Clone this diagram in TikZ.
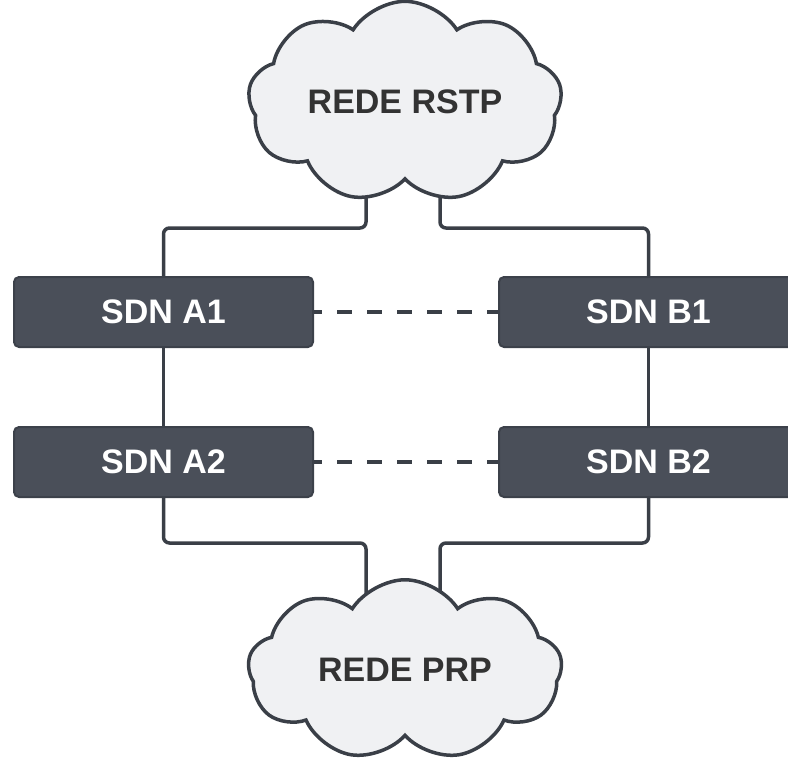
\documentclass[tikz,border=0pt]{standalone}
\usepackage{fontspec}
\setmainfont{Liberation Sans}
\usepackage{tikz}
\usetikzlibrary{shapes.symbols,positioning,backgrounds,calc}
\definecolor{boxfill}{HTML}{4A4F59}
\definecolor{boxline}{HTML}{3C414A}
\definecolor{cloudfill}{HTML}{F0F1F3}
\definecolor{wire}{HTML}{3A3F47}
\definecolor{labeltext}{HTML}{333333}
\tikzset{
  sdn/.style={
    rectangle, rounded corners=5pt,
    draw=boxline, fill=boxfill, line width=2pt,
    minimum width=299pt, minimum height=70pt,
    text=white, font=\fontsize{34}{40}\selectfont\bfseries,
    inner sep=3pt},
  net/.style={
    cloud, cloud puffs=9, cloud puff arc=115, aspect=1.8,
    draw=wire, fill=cloudfill, line width=3.5pt,
    minimum width=314pt, minimum height=172pt,
    text=labeltext, font=\fontsize{34}{40}\selectfont\bfseries,
    inner sep=3pt},
  link/.style={draw=wire, line width=3.5pt, rounded corners=6pt},
  peer/.style={draw=wire, line width=3.5pt, dash pattern=on 15pt off 15pt, dash phase=7pt},
}
\begin{document}
\begin{tikzpicture}[x=1pt, y=-1pt, node distance=78pt and 184pt]
  \useasboundingbox (0,0) rectangle (788,764);
  \node[net] (rstp) at (405,102) {REDE RSTP};
  \node[sdn] (a1) at (163.5,312) {SDN A1};
  \node[sdn, right=of a1] (b1) {SDN B1};
  \node[sdn, below=of a1] (a2) {SDN A2};
  \node[sdn, below=of b1] (b2) {SDN B2};
  \node[net] (prp) at (405,670) {REDE PRP};
  \coordinate (rstpL) at ($(rstp.center)+(-39,0)$);
  \coordinate (rstpR) at ($(rstp.center)+(35,0)$);
  \coordinate (prpL) at ($(prp.center)+(-39,0)$);
  \coordinate (prpR) at ($(prp.center)+(35,0)$);
  \coordinate (topbus) at (0,228);
  \coordinate (lowbus) at (0,543);
  \begin{scope}[on background layer]
    \draw[link] (a1.north) |- (topbus -| rstpL) -- (rstpL);
    \draw[link] (b1.north) |- (topbus -| rstpR) -- (rstpR);
    \draw[link] (a2.south) |- (lowbus -| prpL) -- (prpL);
    \draw[link] (b2.south) |- (lowbus -| prpR) -- (prpR);
  \end{scope}
  \draw[link] (a1) -- (a2);
  \draw[link] (b1) -- (b2);
  \draw[peer] (a1) -- (b1);
  \draw[peer] (a2) -- (b2);
\end{tikzpicture}
\end{document}
